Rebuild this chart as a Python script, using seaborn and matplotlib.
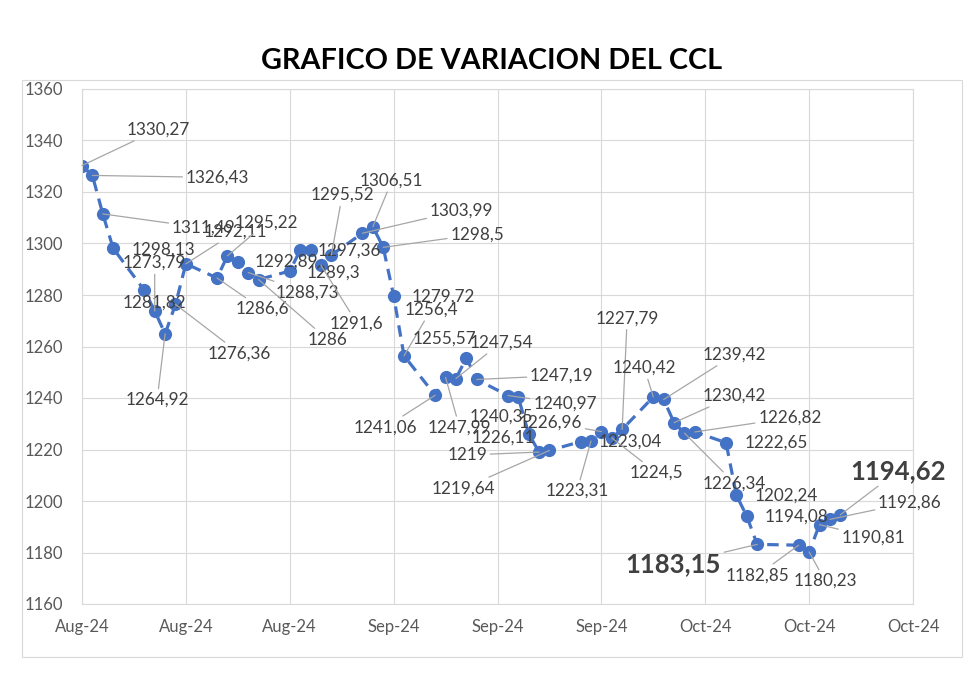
import pandas as pd
import seaborn as sns
import matplotlib.pyplot as plt
import matplotlib.dates as mdates
from matplotlib.patches import Rectangle

# datos: cotizacion diaria del CCL
fechas = ["2024-08-06", "2024-08-07", "2024-08-08", "2024-08-09",
          "2024-08-12", "2024-08-13", "2024-08-14", "2024-08-15", "2024-08-16",
          "2024-08-19", "2024-08-20", "2024-08-21", "2024-08-22", "2024-08-23",
          "2024-08-26", "2024-08-27", "2024-08-28", "2024-08-29", "2024-08-30",
          "2024-09-02", "2024-09-03", "2024-09-04", "2024-09-05", "2024-09-06",
          "2024-09-09", "2024-09-10", "2024-09-11", "2024-09-12", "2024-09-13",
          "2024-09-16", "2024-09-17", "2024-09-18", "2024-09-19", "2024-09-20",
          "2024-09-23", "2024-09-24", "2024-09-25", "2024-09-26", "2024-09-27",
          "2024-09-30", "2024-10-01", "2024-10-02", "2024-10-03", "2024-10-04",
          "2024-10-07", "2024-10-08", "2024-10-09", "2024-10-10",
          "2024-10-14", "2024-10-15", "2024-10-16", "2024-10-17", "2024-10-18"]
valores = [1330.27, 1326.43, 1311.49, 1298.13,
           1281.82, 1273.79, 1264.92, 1276.36, 1292.11,
           1286.6, 1295.22, 1292.89, 1288.73, 1286,
           1289.3, 1297.36, 1297.36, 1291.6, 1295.52,
           1303.99, 1306.51, 1298.5, 1279.72, 1256.4,
           1241.06, 1247.99, 1247.54, 1255.57, 1247.19,
           1240.97, 1240.35, 1226.11, 1219, 1219.64,
           1223.04, 1223.31, 1226.96, 1224.5, 1227.79,
           1240.42, 1239.42, 1230.42, 1226.34, 1226.82,
           1222.65, 1202.24, 1194.08, 1183.15,
           1182.85, 1180.23, 1190.81, 1192.86, 1194.62]
destacados = ["2024-10-10", "2024-10-18"]

# posicion de cada etiqueta respecto del punto (pixeles, y hacia abajo) y si lleva linea guia
# None = etiqueta tapada por la del dia siguiente (mismo valor)
etiquetas = [(76, -36, 1), (125, 2, 1), (101, 14, 1), (50, 1, 0),
             (10, 12, 0), (0, -48, 1), (-8, 66, 1), (64, 49, 1), (50, -32, 1),
             (45, 31, 1), (39, -33, 1), (49, 0, 0), (59, 20, 1), (69, 60, 1),
             (44, 2, 0), None, (39, 0, 0), (36, 58, 1), (11, -60, 1),
             (99, -23, 1), (19, -46, 1), (94, -13, 1), (50, 1, 0), (27, -46, 1),
             (-50, 32, 1), (14, 50, 1), (45, -36, 1), (-22, -19, 0), (85, -4, 1),
             (57, 8, 1), (-17, 20, 0), (-25, 4, 0), (-72, 3, 1), (-86, 38, 1),
             (50, 0, 0), (-14, 50, 1), (-51, -9, 1), (45, 35, 1), (5, -111, 1),
             (-9, -29, 1), (71, -45, 1), (60, -27, 1), (50, 50, 1), (95, -14, 1),
             (50, 0, 0), (50, 0, 0), (50, 0, 0), (-84, 20, 1),
             (-41, 30, 1), (16, 29, 1), (54, 13, 1), (80, -17, 1), (58, -44, 1)]

df = pd.DataFrame({"fecha": pd.to_datetime(fechas), "ccl": valores})

sns.set_style("white")
plt.rcParams['font.family'] = ['Lato', 'DejaVu Sans']

fig = plt.figure(figsize=(9.8, 6.74), dpi=100)
ax = fig.add_axes([82 / 980, 1 - 604 / 674, 831 / 980, 515 / 674])

sns.lineplot(data=df, x="fecha", y="ccl", ax=ax, color="#4472C4",
             linewidth=2.3, linestyle=(0, (3.6, 2.4)), marker="o",
             markersize=9.5, markeredgewidth=0)

# etiquetas de datos
for (f, v), pos in zip(zip(df["fecha"], df["ccl"]), etiquetas):
    if pos is None:
        continue
    dx, dy, guia = pos
    txt = f"{v:.2f}".rstrip("0").rstrip(".").replace(".", ",")
    grande = f.strftime("%Y-%m-%d") in destacados
    flecha = dict(arrowstyle="-", color="#a6a6a6", lw=0.9, shrinkA=0, shrinkB=0) if guia else None
    ax.annotate(txt, xy=(f, v), xytext=(dx, -dy), textcoords="offset pixels",
                ha="center", va="center", color="#404040",
                fontsize=18.5 if grande else 12.3,
                fontweight="bold" if grande else "normal",
                arrowprops=flecha)

# ejes
ax.set_ylim(1160, 1360)
ax.set_yticks(range(1160, 1361, 20))
ax.set_xlim(pd.Timestamp("2024-08-06"), pd.Timestamp("2024-10-25"))
ax.set_xticks(pd.date_range("2024-08-06", "2024-10-25", freq="10D"))
ax.xaxis.set_major_formatter(mdates.DateFormatter("%b-%y"))
ax.set_xlabel("")
ax.set_ylabel("")
ax.grid(True, color="#d9d9d9", linewidth=0.8)
ax.set_axisbelow(True)
for s in ax.spines.values():
    s.set_color("#d9d9d9")
    s.set_linewidth(0.8)
ax.tick_params(axis="y", length=0, pad=13.5, labelsize=12, labelcolor="#595959")
ax.tick_params(axis="x", length=0, pad=11, labelsize=12, labelcolor="#595959")

# marco exterior y titulo
fig.patches.append(Rectangle((22 / 980, 1 - 657 / 674), 940 / 980, 577 / 674,
                             transform=fig.transFigure, fill=False,
                             edgecolor="#d9d9d9", linewidth=0.8))
fig.text(492 / 980, 1 - 61 / 674, "GRAFICO DE VARIACION DEL CCL",
         ha="center", va="center", fontsize=20.7, fontweight="bold", color="black")

plt.savefig("out.png", dpi=100)
plt.close()
